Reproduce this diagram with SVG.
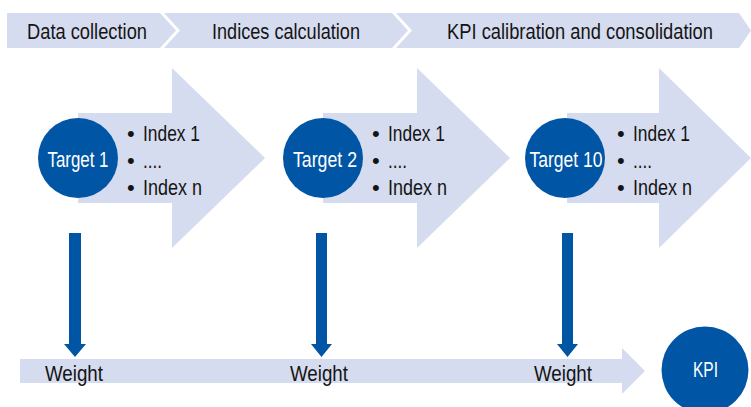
<svg xmlns="http://www.w3.org/2000/svg" width="751" height="407" viewBox="0 0 751 407">
<style>
.band{fill:#d6dcef}
.dark{fill:#0055a5}
.t{font-family:"Liberation Sans",Arial,sans-serif;font-size:22px;fill:#141414}
.w{font-family:"Liberation Sans",Arial,sans-serif;font-size:22px;fill:#ffffff;text-anchor:middle}
</style>
<rect width="751" height="407" fill="#ffffff"/>
<g id="banner">
<polygon class="band" points="7,13 160,13 176,30.5 160,48 7,48"/>
<polygon class="band" points="164,13 392,13 408,30.5 392,48 164,48 180,30.5"/>
<polygon class="band" points="396,13 739,13 751,30.5 739,48 396,48 412,30.5"/>
<text class="t" x="27" y="39" textLength="120" lengthAdjust="spacingAndGlyphs">Data collection</text>
<text class="t" x="212" y="39" textLength="148" lengthAdjust="spacingAndGlyphs">Indices calculation</text>
<text class="t" x="447" y="39" textLength="266" lengthAdjust="spacingAndGlyphs">KPI calibration and consolidation</text>
</g>
<g id="stage1">
<polygon class="band" points="78,113 172,113 172,68 265,158 172,248 172,203 78,203"/>
<circle class="dark" cx="78" cy="158" r="40"/>
<text class="w" x="78" y="167" textLength="61" lengthAdjust="spacingAndGlyphs">Target 1</text>
<text class="t" x="127" y="141">•</text><text class="t" x="143" y="141" textLength="57" lengthAdjust="spacingAndGlyphs">Index 1</text>
<text class="t" x="127" y="168">•</text><text class="t" x="143" y="168" textLength="19" lengthAdjust="spacingAndGlyphs">....</text>
<text class="t" x="127" y="195">•</text><text class="t" x="143" y="195" textLength="59" lengthAdjust="spacingAndGlyphs">Index n</text>
</g>
<g id="stage2">
<polygon class="band" points="323,113 417,113 417,68 510,158 417,248 417,203 323,203"/>
<circle class="dark" cx="323" cy="158" r="40"/>
<text class="w" x="325" y="167" textLength="64" lengthAdjust="spacingAndGlyphs">Target 2</text>
<text class="t" x="372" y="141">•</text><text class="t" x="388" y="141" textLength="57" lengthAdjust="spacingAndGlyphs">Index 1</text>
<text class="t" x="372" y="168">•</text><text class="t" x="388" y="168" textLength="19" lengthAdjust="spacingAndGlyphs">....</text>
<text class="t" x="372" y="195">•</text><text class="t" x="388" y="195" textLength="59" lengthAdjust="spacingAndGlyphs">Index n</text>
</g>
<g id="stage3">
<polygon class="band" points="567,113 659,113 659,68 751,158 659,248 659,203 567,203"/>
<circle class="dark" cx="565" cy="158" r="40"/>
<text class="w" x="566" y="167" textLength="73" lengthAdjust="spacingAndGlyphs">Target 10</text>
<text class="t" x="617" y="141">•</text><text class="t" x="633" y="141" textLength="57" lengthAdjust="spacingAndGlyphs">Index 1</text>
<text class="t" x="617" y="168">•</text><text class="t" x="633" y="168" textLength="19" lengthAdjust="spacingAndGlyphs">....</text>
<text class="t" x="617" y="195">•</text><text class="t" x="633" y="195" textLength="59" lengthAdjust="spacingAndGlyphs">Index n</text>
</g>
<g id="weightbar">
<polygon class="band" points="20,359 622,359 622,348 645,371 622,394 622,383 20,383"/>
</g>
<g id="connectors">
<polygon class="dark" points="69,233 81,233 81,344 86,344 75,357 64,344 69,344"/>
<polygon class="dark" points="316,233 327,233 327,344 332,344 321.5,357 311,344 316,344"/>
<polygon class="dark" points="562,233 573,233 573,344 578,344 567.5,357 557,344 562,344"/>
</g>
<g id="weights">
<text class="t" x="45" y="381" textLength="58" lengthAdjust="spacingAndGlyphs">Weight</text>
<text class="t" x="290" y="381" textLength="58" lengthAdjust="spacingAndGlyphs">Weight</text>
<text class="t" x="534" y="381" textLength="58" lengthAdjust="spacingAndGlyphs">Weight</text>
</g>
<g id="kpi">
<circle class="dark" cx="705" cy="370" r="43.5"/>
<text class="w" x="705.5" y="377" font-size="19" textLength="25" lengthAdjust="spacingAndGlyphs">KPI</text>
</g>
</svg>
